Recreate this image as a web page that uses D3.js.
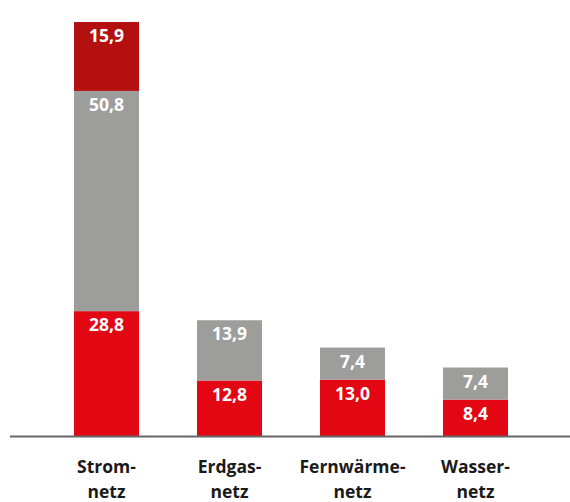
<!DOCTYPE html>
<html>
<head>
<meta charset="utf-8">
<script src="https://cdn.jsdelivr.net/npm/d3@7"></script>
<style>
  body { margin: 0; background: #fff; }
  svg text { font-family: "Open Sans", "Noto Sans", sans-serif; font-weight: bold; }
</style>
</head>
<body>
<svg id="chart" width="570" height="502"></svg>
<script>
// categories split into two lines
const categories = ["Stromnetz", "Erdgasnetz", "Fernwärmenetz", "Wassernetz"];
const catLines = [["Strom-", "netz"], ["Erdgas-", "netz"], ["Fernwärme-", "netz"], ["Wasser-", "netz"]];

// stacked series, bottom to top
const seriesRed = [28.8, 12.8, 13.0, 8.4];
const seriesGrey = [50.8, 13.9, 7.4, 7.4];
const seriesDark = [15.9, 0, 0, 0];

const colors = { red: "#e30613", grey: "#9d9d9c", dark: "#b3100f" };

const width = 570, height = 502;
const baseline = 436;

const svg = d3.select("#chart");

const rows = categories.map((c, i) => ({
  cat: c, red: seriesRed[i], grey: seriesGrey[i], dark: seriesDark[i]
}));
const keys = ["red", "grey", "dark"];
const stack = d3.stack().keys(keys)(rows);

const x = d3.scaleBand()
  .domain(categories)
  .range([45, 537])
  .paddingInner(0.4715)
  .paddingOuter(0.2358);

const y = d3.scaleLinear()
  .domain([0, 95.5])
  .range([baseline, 22]);

const fmt = v => d3.format(".1f")(v).replace(".", ",");

stack.forEach(layer => {
  const g = svg.append("g");
  g.selectAll("rect")
    .data(layer.filter(d => d[1] > d[0]))
    .join("rect")
    .attr("x", d => x(d.data.cat))
    .attr("width", x.bandwidth())
    .attr("y", d => y(d[1]))
    .attr("height", d => y(d[0]) - y(d[1]))
    .attr("fill", colors[layer.key]);

  g.selectAll("text")
    .data(layer.filter(d => d[1] > d[0]))
    .join("text")
    .attr("x", d => x(d.data.cat) + x.bandwidth() / 2)
    .attr("y", d => y(d[1]) + 20)
    .attr("text-anchor", "middle")
    .attr("fill", "#fff")
    .attr("font-size", 17.5)
    .text(d => fmt(d[1] - d[0]));
});

// axis line
svg.append("line")
  .attr("x1", 10).attr("x2", 570)
  .attr("y1", baseline + 0.5).attr("y2", baseline + 0.5)
  .attr("stroke", "#666")
  .attr("stroke-width", 2);

// category labels
const labels = svg.append("g");
categories.forEach((c, i) => {
  const t = labels.append("text")
    .attr("x", x(c) + x.bandwidth() / 2)
    .attr("y", 473)
    .attr("text-anchor", "middle")
    .attr("fill", "#1a1a1a")
    .attr("font-size", 17.5);
  catLines[i].forEach((line, j) => {
    t.append("tspan")
      .attr("x", x(c) + x.bandwidth() / 2)
      .attr("dy", j === 0 ? 0 : 25)
      .text(line);
  });
});
</script>
</body>
</html>
